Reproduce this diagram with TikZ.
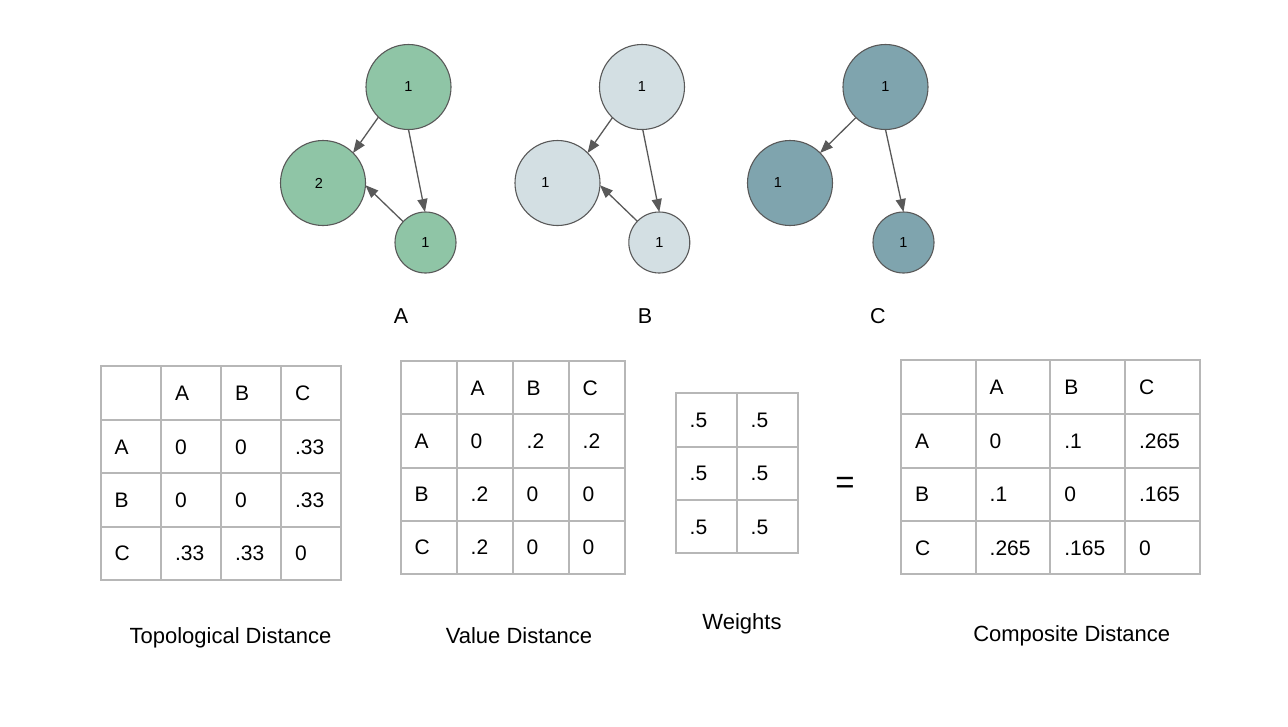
\documentclass[tikz,border=0pt]{standalone}
\usepackage{fontspec}
\setmainfont{Liberation Sans}
\usepackage{tikz}
\usetikzlibrary{arrows.meta}
\pgfdeclarelayer{bg}
\pgfsetlayers{bg,main}
\definecolor{nodegreen}{RGB}{143,197,166}
\definecolor{nodepale}{RGB}{211,223,227}
\definecolor{nodeteal}{RGB}{127,164,174}
\definecolor{edgegray}{RGB}{89,89,89}
\definecolor{gridgray}{RGB}{183,183,183}
\tikzset{
    every node/.style={inner sep=0pt, outer sep=0pt}
}
\tikzset{every label/.style={inner sep=0pt, font=\fontsize{14.5}{16}\selectfont}}
\tikzset{
    vertbig/.style={circle, draw=edgegray, line width=1.1pt, minimum size=85pt},
    vertsmall/.style={circle, draw=edgegray, line width=1.1pt, minimum size=61pt},
    link/.style={draw=edgegray, line width=1.3pt, -{Triangle[length=13pt,width=10pt]}},
    cell/.style={anchor=west, font=\fontsize{21}{24}\selectfont, text height=15pt, text depth=0pt},
    caption/.style={anchor=base, font=\fontsize{22}{26}\selectfont},
    gridline/.style={draw=gridgray, line width=1.5pt, line cap=rect}
}

\begin{document}
\begin{tikzpicture}[x=1pt, y=-1pt]
    \useasboundingbox (0,0) rectangle (1288,726);

    % graph A
    \node (tA) [vertbig, fill=nodegreen, label=center:1] at (408.5,87) {};
    \node (lA) [vertbig, fill=nodegreen, label={[xshift=-4pt]center:2}] at (323,183) {};
    \node (sA) [vertsmall, fill=nodegreen, label=center:1] at (425.5,242.5) {};
    \node (gA) [caption, font=\fontsize{21.5}{26}\selectfont] at (401,323) {A};

    \begin{pgfonlayer}{bg}
        \draw[link] (tA.225) -- (lA.45);
        \draw[link] (tA.270) -- (sA.91);
        \draw[link] (sA.137) -- (lA.357);
    \end{pgfonlayer}

    % graph B
    \node (tB) [vertbig, fill=nodepale, label=center:1] at (642,87) {};
    \node (lB) [vertbig, fill=nodepale, label={[xshift=-12pt]center:1}] at (557.5,183) {};
    \node (sB) [vertsmall, fill=nodepale, label=center:1] at (659.3,242.5) {};
    \node (gB) [caption, font=\fontsize{21.5}{26}\selectfont] at (645,323) {B};

    \begin{pgfonlayer}{bg}
        \draw[link] (tB.226) -- (lB.45);
        \draw[link] (tB.271) -- (sB.90);
        \draw[link] (sB.136) -- (lB.357);
    \end{pgfonlayer}

    % graph C
    \node (tC) [vertbig, fill=nodeteal, label=center:1] at (885.5,87) {};
    \node (lC) [vertbig, fill=nodeteal, label={[xshift=-12pt]center:1}] at (790,183) {};
    \node (sC) [vertsmall, fill=nodeteal, label=center:1] at (903.5,242.5) {};
    \node (gC) [caption, font=\fontsize{21.5}{26}\selectfont] at (878,323) {C};

    \begin{pgfonlayer}{bg}
        \draw[link] (tC.226) -- (lC.45);
        \draw[link] (tC.270) -- (sC.90);
    \end{pgfonlayer}

    % topological distance
    \foreach \x in {101,161,221,281,341} \draw[gridline] (\x,366) -- (\x,580);
    \foreach \y in {366,420,473,527,580} \draw[gridline] (101,\y) -- (341,\y);
    \node (tph1) [cell] at (175,392.8) {A};
    \node (tph2) [cell] at (235,392.8) {B};
    \node (tph3) [cell] at (295,392.8) {C};
    \node (tpr1) [cell] at (114.7,446.5) {A};
    \node (tp11) [cell] at (175,446.5) {0};
    \node (tp12) [cell] at (235,446.5) {0};
    \node (tp13) [cell] at (295,446.5) {.33};
    \node (tpr2) [cell] at (114.7,499.8) {B};
    \node (tp21) [cell] at (175,499.8) {0};
    \node (tp22) [cell] at (235,499.8) {0};
    \node (tp23) [cell] at (295,499.8) {.33};
    \node (tpr3) [cell] at (114.7,553.3) {C};
    \node (tp31) [cell] at (175,553.3) {.33};
    \node (tp32) [cell] at (235,553.3) {.33};
    \node (tp33) [cell] at (295,553.3) {0};
    \node (tpcap) [caption] at (230.5,643.3) {Topological Distance};

    % value distance
    \foreach \x in {401,457,513,569,625} \draw[gridline] (\x,361) -- (\x,574);
    \foreach \y in {361,414,468,521,574} \draw[gridline] (401,\y) -- (625,\y);
    \node (vdh1) [cell] at (470.7,387.5) {A};
    \node (vdh2) [cell] at (526.7,387.5) {B};
    \node (vdh3) [cell] at (582.7,387.5) {C};
    \node (vdr1) [cell] at (414.7,441) {A};
    \node (vd11) [cell] at (470.7,441) {0};
    \node (vd12) [cell] at (526.7,441) {.2};
    \node (vd13) [cell] at (582.7,441) {.2};
    \node (vdr2) [cell] at (414.7,494.2) {B};
    \node (vd21) [cell] at (470.7,494.2) {.2};
    \node (vd22) [cell] at (526.7,494.2) {0};
    \node (vd23) [cell] at (582.7,494.2) {0};
    \node (vdr3) [cell] at (414.7,547.3) {C};
    \node (vd31) [cell] at (470.7,547.3) {.2};
    \node (vd32) [cell] at (526.7,547.3) {0};
    \node (vd33) [cell] at (582.7,547.3) {0};
    \node (vdcap) [caption] at (519,643.3) {Value Distance};

    % weights
    \foreach \x in {676,737,798} \draw[gridline] (\x,393) -- (\x,553);
    \foreach \y in {393,447,500,553} \draw[gridline] (676,\y) -- (798,\y);
    \node (wt11) [cell] at (689.7,420) {.5};
    \node (wt12) [cell] at (750.7,420) {.5};
    \node (wt21) [cell] at (689.7,473.3) {.5};
    \node (wt22) [cell] at (750.7,473.3) {.5};
    \node (wt31) [cell] at (689.7,526.7) {.5};
    \node (wt32) [cell] at (750.7,526.7) {.5};
    \node (wtcap) [caption] at (742,629.5) {Weights};

    \node (eq) [anchor=base, font=\fontsize{33}{36}\selectfont] at (845,493) {=};

    % composite distance
    \foreach \x in {901,976,1050,1125,1200} \draw[gridline] (\x,360) -- (\x,574);
    \foreach \y in {360,414,468,521,574} \draw[gridline] (901,\y) -- (1200,\y);
    \node (cdh1) [cell] at (989.7,387.2) {A};
    \node (cdh2) [cell] at (1064.3,387.2) {B};
    \node (cdh3) [cell] at (1139,387.2) {C};
    \node (cdr1) [cell] at (915,441) {A};
    \node (cd11) [cell] at (989.7,441) {0};
    \node (cd12) [cell] at (1064.3,441) {.1};
    \node (cd13) [cell] at (1139,441) {.265};
    \node (cdr2) [cell] at (915,494.3) {B};
    \node (cd21) [cell] at (989.7,494.3) {.1};
    \node (cd22) [cell] at (1064.3,494.3) {0};
    \node (cd23) [cell] at (1139,494.3) {.165};
    \node (cdr3) [cell] at (915,547.7) {C};
    \node (cd31) [cell] at (989.7,547.7) {.265};
    \node (cd32) [cell] at (1064.3,547.7) {.165};
    \node (cd33) [cell] at (1139,547.7) {0};
    \node (cdcap) [caption] at (1071.7,641.5) {Composite Distance};
\end{tikzpicture}
\end{document}
